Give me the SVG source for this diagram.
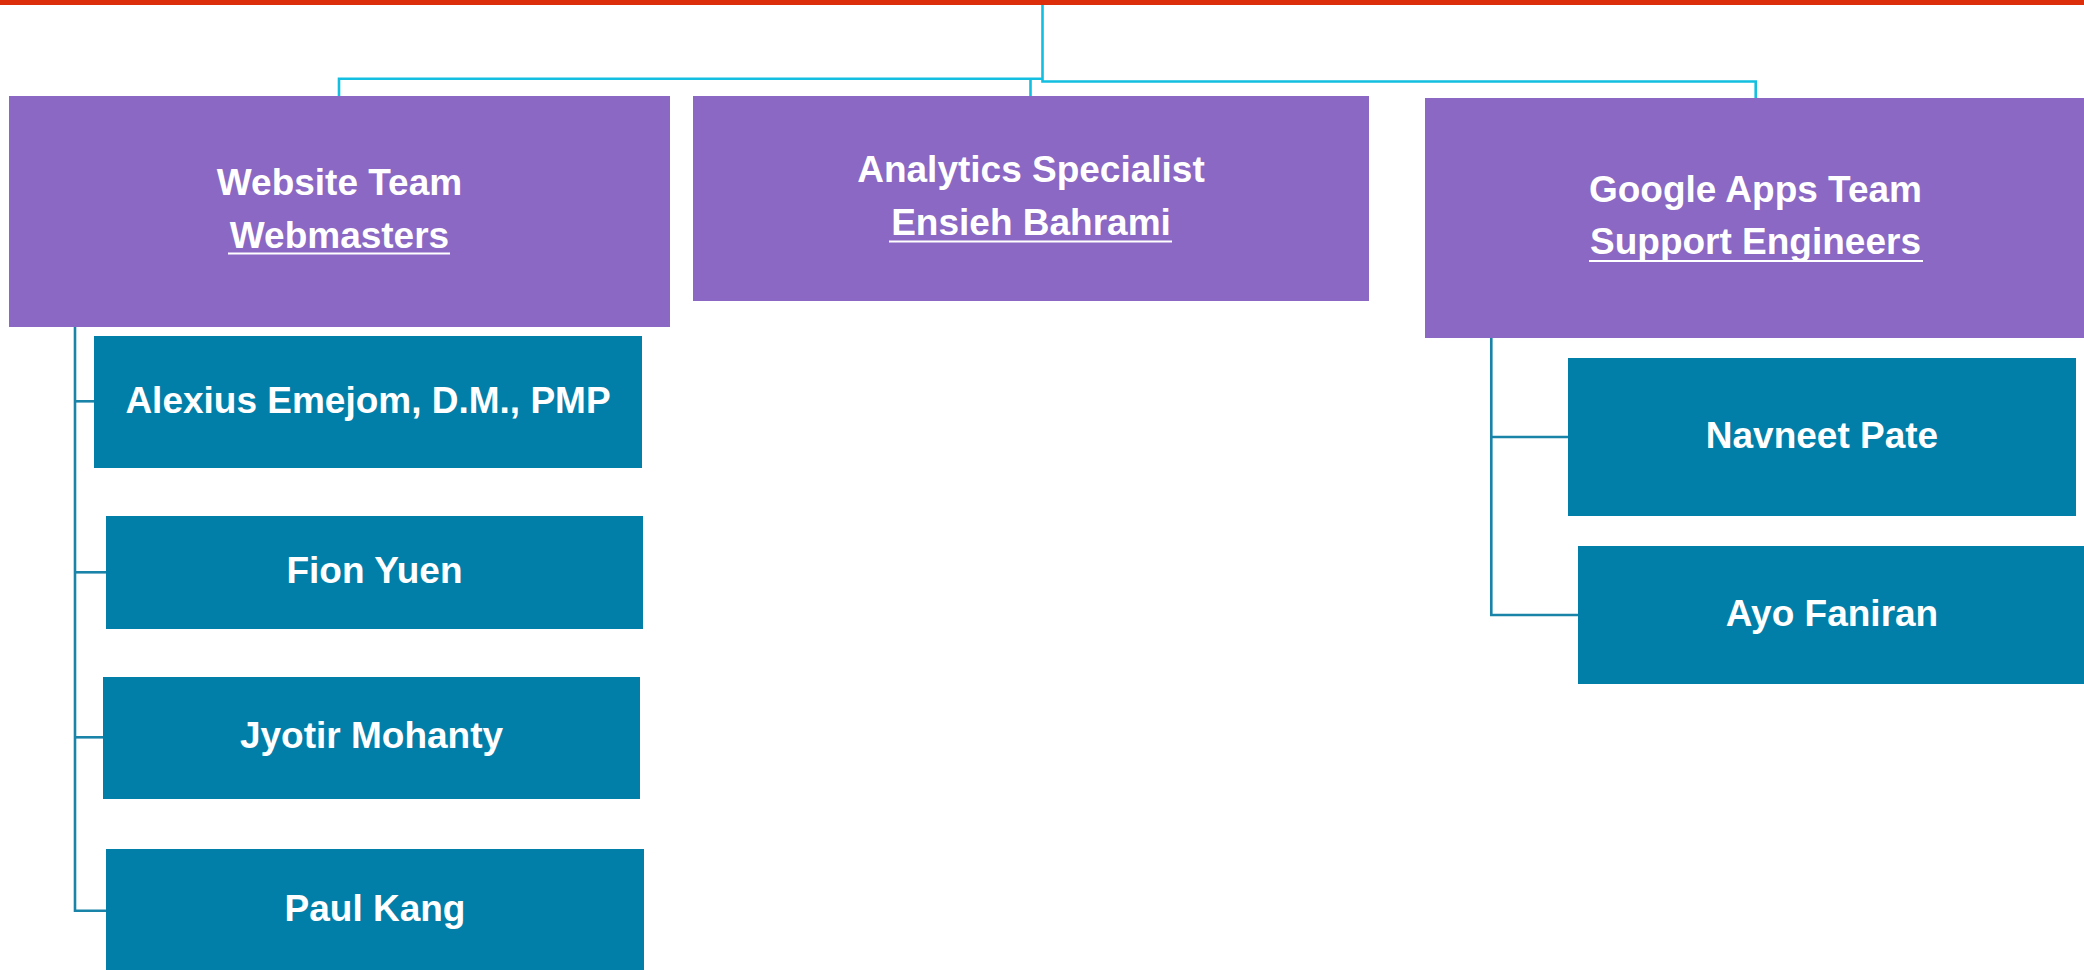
<svg xmlns="http://www.w3.org/2000/svg" width="2084" height="970" viewBox="0 0 2084 970">
  <style>
    .team { fill: #8A68C3; }
    .member { fill: #027FA9; }
    .t { font-family: "Liberation Sans", Arial, sans-serif; font-weight: bold; font-size: 37px; fill: #FFFFFF; text-anchor: middle; }
    .ul { stroke: #FFFFFF; stroke-width: 2; }
    .c1 { fill: none; stroke: #12BFE0; stroke-width: 2.6; }
    .c2 { fill: none; stroke: #1A84A8; stroke-width: 2.6; }
  </style>
  <rect x="0" y="0" width="2084" height="5" fill="#DC2E0A"/>
  <g id="connectors">
    <path class="c1" d="M1042.5 5 V81.5 H1755.7 V98"/>
    <path class="c1" d="M1042.5 78.7 H339 V96"/>
    <path class="c1" d="M1030.5 78.7 V96"/>
    <path class="c2" d="M75 327 V910.7 H106"/>
    <path class="c2" d="M75 401.3 H94"/>
    <path class="c2" d="M75 572.3 H106"/>
    <path class="c2" d="M75 737.3 H103"/>
    <path class="c2" d="M1491.3 338 V615 H1578"/>
    <path class="c2" d="M1491.3 437 H1568"/>
  </g>
  <g id="website-team">
    <rect class="team" x="9" y="96" width="661" height="231"/>
    <text class="t" x="339.5" y="195">Website Team</text>
    <text class="t" x="339.5" y="248">Webmasters</text>
    <line class="ul" x1="228" y1="253.5" x2="450" y2="253.5"/>
  </g>
  <g id="analytics-specialist">
    <rect class="team" x="693" y="96" width="676" height="205"/>
    <text class="t" x="1031" y="182">Analytics Specialist</text>
    <text class="t" x="1031" y="235">Ensieh Bahrami</text>
    <line class="ul" x1="889" y1="241.5" x2="1172" y2="241.5"/>
  </g>
  <g id="google-apps-team">
    <rect class="team" x="1425" y="98" width="660" height="240"/>
    <text class="t" x="1755.5" y="201.5">Google Apps Team</text>
    <text class="t" x="1755.5" y="254">Support Engineers</text>
    <line class="ul" x1="1589" y1="261" x2="1923" y2="261"/>
  </g>
  <g id="alexius-emejom">
    <rect class="member" x="94" y="336" width="548" height="132"/>
    <text class="t" x="368" y="413">Alexius Emejom, D.M., PMP</text>
  </g>
  <g id="fion-yuen">
    <rect class="member" x="106" y="516" width="537" height="113"/>
    <text class="t" x="374.5" y="583">Fion Yuen</text>
  </g>
  <g id="jyotir-mohanty">
    <rect class="member" x="103" y="677" width="537" height="122"/>
    <text class="t" x="371.5" y="748">Jyotir Mohanty</text>
  </g>
  <g id="paul-kang">
    <rect class="member" x="106" y="849" width="538" height="130"/>
    <text class="t" x="375" y="921">Paul Kang</text>
  </g>
  <g id="navneet-pate">
    <rect class="member" x="1568" y="358" width="508" height="158"/>
    <text class="t" x="1822" y="447.6">Navneet Pate</text>
  </g>
  <g id="ayo-faniran">
    <rect class="member" x="1578" y="546" width="510" height="138"/>
    <text class="t" x="1832" y="625.5">Ayo Faniran</text>
  </g>
</svg>
